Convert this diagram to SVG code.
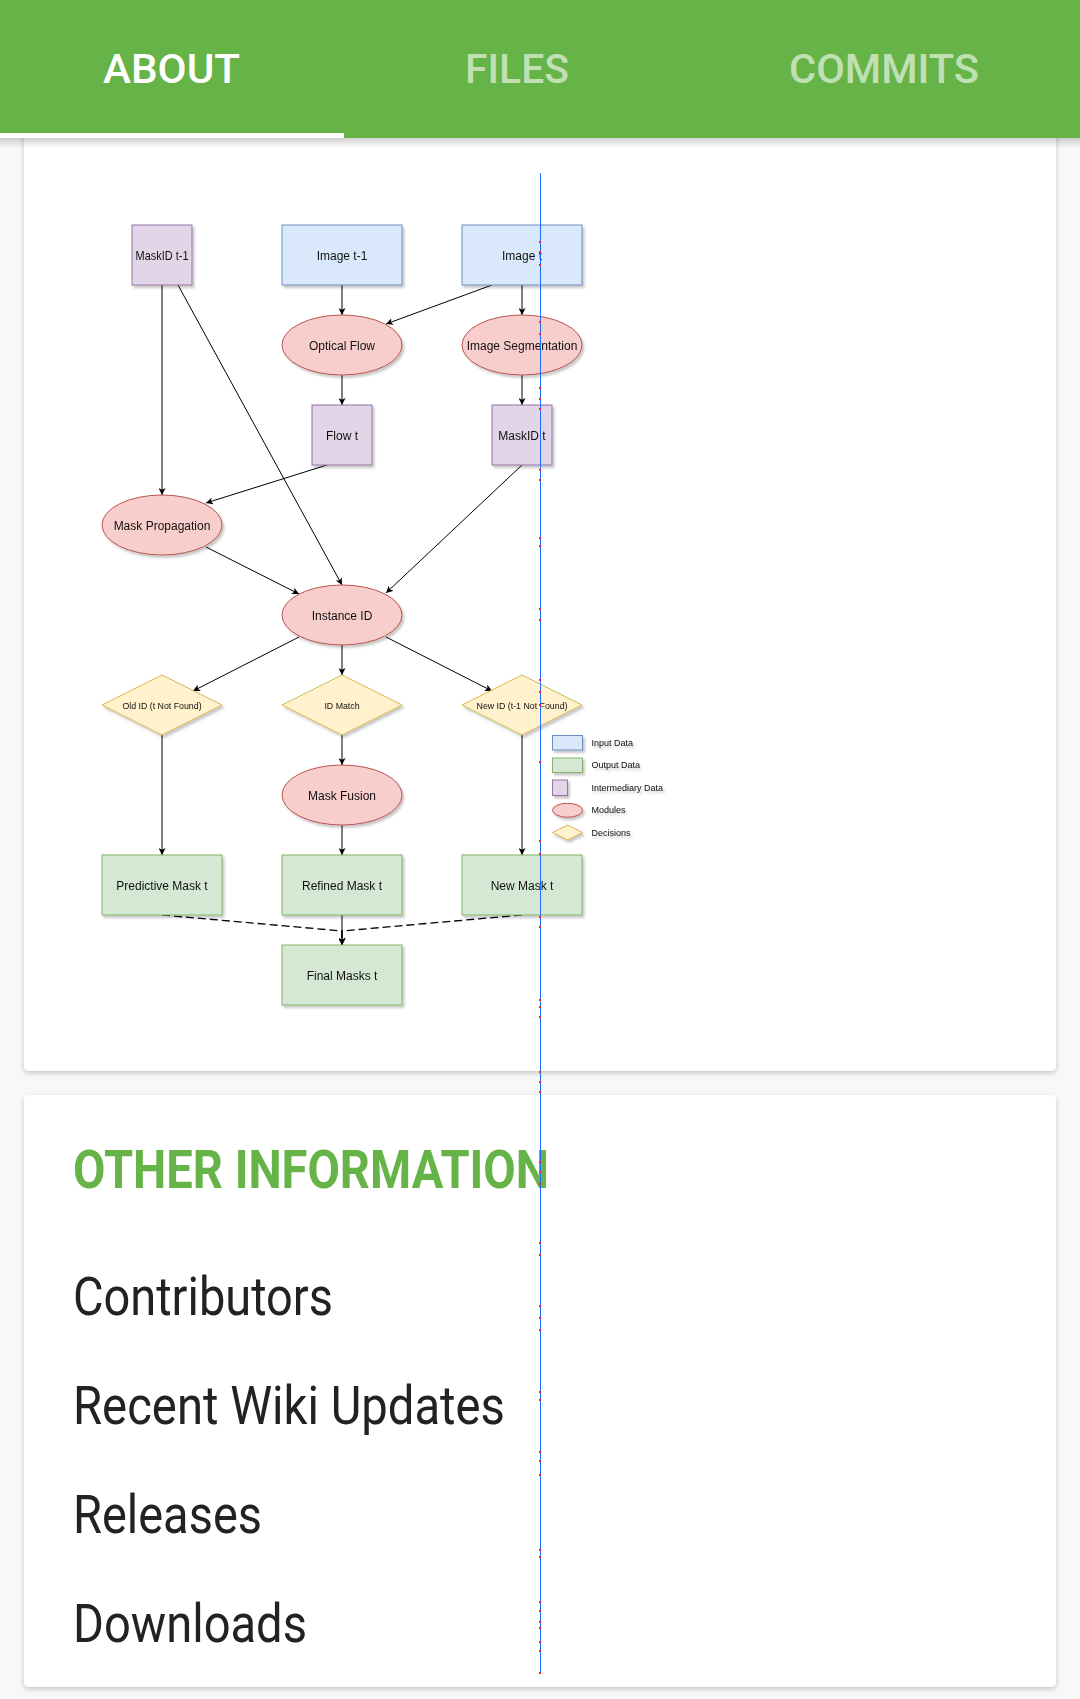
<svg xmlns="http://www.w3.org/2000/svg" width="1080" height="1699" viewBox="0 0 1080 1699">
<defs>
<style>
.t{font-family:"Liberation Sans",Arial,sans-serif;font-size:12px;fill:#111;text-anchor:middle}
.ts{font-family:"Liberation Sans",Arial,sans-serif;font-size:8.8px;fill:#111;text-anchor:middle}
.lg{font-family:"Liberation Sans",Arial,sans-serif;font-size:9px;fill:#111}
.blue{fill:#dae8fc;stroke:#6c8ebf}
.green{fill:#d5e8d4;stroke:#82b366}
.purple{fill:#e1d5e7;stroke:#9673a6}
.red{fill:#f8cecc;stroke:#b85450}
.yellow{fill:#fff2cc;stroke:#d6b656}
.tab{font-family:Roboto,"Noto Sans",sans-serif;font-size:41px;font-weight:500}
.big{font-family:Roboto,"Noto Sans",sans-serif;font-size:53px;fill:#222}
</style>
<filter id="sh" x="-20%" y="-20%" width="140%" height="140%">
<feDropShadow dx="2" dy="2.5" stdDeviation="1" flood-color="#000" flood-opacity="0.22"/>
</filter>
<filter id="card" x="-5%" y="-5%" width="110%" height="110%">
<feDropShadow dx="0" dy="2" stdDeviation="2.5" flood-color="#000" flood-opacity="0.22"/>
</filter>
<linearGradient id="hs" x1="0" y1="0" x2="0" y2="1">
<stop offset="0" stop-color="#000" stop-opacity="0.18"/>
<stop offset="1" stop-color="#000" stop-opacity="0"/>
</linearGradient>
<marker id="arrow" viewBox="0 0 8 8" refX="8" refY="4" markerWidth="7" markerHeight="7" markerUnits="userSpaceOnUse" orient="auto">
<path d="M0,0 L8,4 L0,8 L2,4 z" fill="#000"/>
</marker>
</defs>

<rect x="0" y="0" width="1080" height="1699" fill="#f8f8f8"/>

<!-- cards -->
<rect x="24" y="120" width="1032" height="951" rx="5" fill="#fff" filter="url(#card)"/>
<rect x="24" y="1095" width="1032" height="592" rx="5" fill="#fff" filter="url(#card)"/>

<!-- header -->
<rect x="0" y="138" width="1080" height="10" fill="url(#hs)"/>
<rect x="0" y="0" width="1080" height="138" fill="#66b347"/>
<rect x="0" y="133" width="344" height="5" fill="#fff"/>
<text class="tab" x="103" y="83" fill="#fff" textLength="137" lengthAdjust="spacingAndGlyphs">ABOUT</text>
<text class="tab" x="465" y="83" fill="#fff" fill-opacity="0.6" textLength="104" lengthAdjust="spacingAndGlyphs">FILES</text>
<text class="tab" x="789" y="83" fill="#fff" fill-opacity="0.6" textLength="190" lengthAdjust="spacingAndGlyphs">COMMITS</text>

<!-- connectors -->
<g id="connectors" stroke="#000" stroke-width="1" fill="none" marker-end="url(#arrow)">
<path d="M162,285 V495"/>
<path d="M178,285 L342,585"/>
<path d="M342,285 V315"/>
<path d="M492,285 L386,324"/>
<path d="M522,285 V315"/>
<path d="M342,375 V405"/>
<path d="M522,375 V405"/>
<path d="M327,465 L206,503"/>
<path d="M522,465 L386,593"/>
<path d="M206,547 L299,594"/>
<path d="M299,637 L193,691"/>
<path d="M342,645 V675"/>
<path d="M386,637 L492,691"/>
<path d="M162,735 V855"/>
<path d="M342,735 V765"/>
<path d="M342,825 V855"/>
<path d="M522,735 V855"/>
<path d="M342,915 V945"/>
<path d="M162,915 L342,931 V945" stroke-width="1.3" stroke-dasharray="8 4"/>
<path d="M522,915 L342,931 V945" stroke-width="1.3" stroke-dasharray="8 4"/>
</g>

<!-- nodes -->
<g id="maskid-t1" filter="url(#sh)"><rect class="purple" x="132" y="225" width="60" height="60"/><text class="t" x="162" y="260" textLength="53" lengthAdjust="spacingAndGlyphs">MaskID t-1</text></g>
<g id="image-t1" filter="url(#sh)"><rect class="blue" x="282" y="225" width="120" height="60"/><text class="t" x="342" y="260">Image t-1</text></g>
<g id="image-t" filter="url(#sh)"><rect class="blue" x="462" y="225" width="120" height="60"/><text class="t" x="522" y="260">Image t</text></g>
<g id="optical-flow" filter="url(#sh)"><ellipse class="red" cx="342" cy="345" rx="60" ry="30"/><text class="t" x="342" y="350">Optical Flow</text></g>
<g id="image-seg" filter="url(#sh)"><ellipse class="red" cx="522" cy="345" rx="60" ry="30"/><text class="t" x="522" y="350">Image Segmentation</text></g>
<g id="flow-t" filter="url(#sh)"><rect class="purple" x="312" y="405" width="60" height="60"/><text class="t" x="342" y="440">Flow t</text></g>
<g id="maskid-t" filter="url(#sh)"><rect class="purple" x="492" y="405" width="60" height="60"/><text class="t" x="522" y="440">MaskID t</text></g>
<g id="mask-prop" filter="url(#sh)"><ellipse class="red" cx="162" cy="525" rx="60" ry="30"/><text class="t" x="162" y="530">Mask Propagation</text></g>
<g id="instance-id" filter="url(#sh)"><ellipse class="red" cx="342" cy="615" rx="60" ry="30"/><text class="t" x="342" y="620">Instance ID</text></g>
<g id="old-id" filter="url(#sh)"><path class="yellow" d="M162,675 L222,705 L162,735 L102,705 Z"/><text class="ts" x="162" y="708.5">Old ID (t Not Found)</text></g>
<g id="id-match" filter="url(#sh)"><path class="yellow" d="M342,675 L402,705 L342,735 L282,705 Z"/><text class="ts" x="342" y="708.5">ID Match</text></g>
<g id="new-id" filter="url(#sh)"><path class="yellow" d="M522,675 L582,705 L522,735 L462,705 Z"/><text class="ts" x="522" y="708.5">New ID (t-1 Not Found)</text></g>
<g id="mask-fusion" filter="url(#sh)"><ellipse class="red" cx="342" cy="795" rx="60" ry="30"/><text class="t" x="342" y="800">Mask Fusion</text></g>
<g id="predictive" filter="url(#sh)"><rect class="green" x="102" y="855" width="120" height="60"/><text class="t" x="162" y="890">Predictive Mask t</text></g>
<g id="refined" filter="url(#sh)"><rect class="green" x="282" y="855" width="120" height="60"/><text class="t" x="342" y="890">Refined Mask t</text></g>
<g id="new-mask" filter="url(#sh)"><rect class="green" x="462" y="855" width="120" height="60"/><text class="t" x="522" y="890">New Mask t</text></g>
<g id="final" filter="url(#sh)"><rect class="green" x="282" y="945" width="120" height="60"/><text class="t" x="342" y="980">Final Masks t</text></g>

<!-- legend -->
<g id="legend" filter="url(#sh)">
<rect class="blue" x="552.5" y="735.5" width="30" height="14.5"/>
<rect class="green" x="552.5" y="758" width="30" height="14.5"/>
<rect class="purple" x="552.5" y="780" width="15" height="15.5"/>
<ellipse class="red" cx="567.5" cy="810.3" rx="15" ry="7"/>
<path class="yellow" d="M567.5,825 L582.5,832.5 L567.5,840 L552.5,832.5 Z"/>
<text class="lg" x="591.5" y="745.5">Input Data</text>
<text class="lg" x="591.5" y="768">Output Data</text>
<text class="lg" x="591.5" y="790.5">Intermediary Data</text>
<text class="lg" x="591.5" y="812.5">Modules</text>
<text class="lg" x="591.5" y="835.5">Decisions</text>
</g>

<!-- other information -->
<text x="73" y="1188" font-family="Roboto,'Noto Sans',sans-serif" font-size="53" font-weight="700" fill="#66b347" textLength="476" lengthAdjust="spacingAndGlyphs">OTHER INFORMATION</text>
<text class="big" x="73" y="1315" textLength="260" lengthAdjust="spacingAndGlyphs">Contributors</text>
<text class="big" x="73" y="1424" textLength="432" lengthAdjust="spacingAndGlyphs">Recent Wiki Updates</text>
<text class="big" x="73" y="1533" textLength="189" lengthAdjust="spacingAndGlyphs">Releases</text>
<text class="big" x="73" y="1642" textLength="234" lengthAdjust="spacingAndGlyphs">Downloads</text>

<!-- overlay guide line -->
<line x1="540.5" y1="173" x2="540.5" y2="1673" stroke="#1a6cff" stroke-width="1"/>
<g fill="#ff2020">
<rect x="539" y="241" width="2" height="2"/><rect x="539" y="251" width="2" height="2"/><rect x="539" y="264" width="2" height="2"/>
<rect x="539" y="321" width="2" height="2"/><rect x="539" y="333" width="2" height="2"/><rect x="539" y="387" width="2" height="2"/>
<rect x="539" y="398" width="2" height="2"/><rect x="539" y="408" width="2" height="2"/><rect x="539" y="469" width="2" height="2"/>
<rect x="539" y="479" width="2" height="2"/><rect x="539" y="537" width="2" height="2"/><rect x="539" y="545" width="2" height="2"/>
<rect x="539" y="608" width="2" height="2"/><rect x="539" y="619" width="2" height="2"/><rect x="539" y="679" width="2" height="2"/>
<rect x="539" y="691" width="2" height="2"/><rect x="539" y="704" width="2" height="2"/><rect x="539" y="761" width="2" height="2"/>
<rect x="539" y="840" width="2" height="2"/><rect x="539" y="853" width="2" height="2"/><rect x="539" y="916" width="2" height="2"/>
<rect x="539" y="926" width="2" height="2"/><rect x="539" y="999" width="2" height="2"/><rect x="539" y="1006" width="2" height="2"/>
<rect x="539" y="1016" width="2" height="2"/><rect x="539" y="1071" width="2" height="2"/><rect x="539" y="1081" width="2" height="2"/>
<rect x="539" y="1091" width="2" height="2"/><rect x="539" y="1161" width="2" height="2"/><rect x="539" y="1171" width="2" height="2"/>
<rect x="539" y="1183" width="2" height="2"/><rect x="539" y="1242" width="2" height="2"/><rect x="539" y="1254" width="2" height="2"/>
<rect x="539" y="1305" width="2" height="2"/><rect x="539" y="1317" width="2" height="2"/><rect x="539" y="1329" width="2" height="2"/>
<rect x="539" y="1391" width="2" height="2"/><rect x="539" y="1399" width="2" height="2"/><rect x="539" y="1451" width="2" height="2"/>
<rect x="539" y="1460" width="2" height="2"/><rect x="539" y="1474" width="2" height="2"/><rect x="539" y="1549" width="2" height="2"/>
<rect x="539" y="1556" width="2" height="2"/><rect x="539" y="1601" width="2" height="2"/><rect x="539" y="1610" width="2" height="2"/>
<rect x="539" y="1621" width="2" height="2"/><rect x="539" y="1627" width="2" height="2"/><rect x="539" y="1641" width="2" height="2"/>
<rect x="539" y="1650" width="2" height="2"/><rect x="539" y="1672" width="2" height="2"/>
</g>
</svg>
